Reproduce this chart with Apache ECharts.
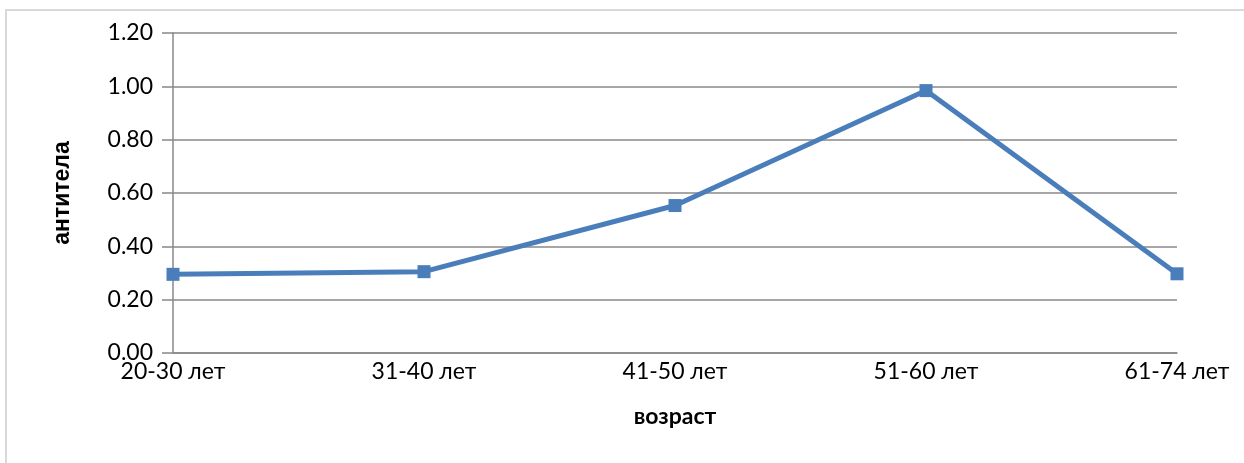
<!DOCTYPE html>
<html>
<head>
<meta charset="utf-8">
<script src="https://cdn.jsdelivr.net/npm/echarts@6/dist/echarts.min.js"></script>
<style>
  html, body { margin: 0; padding: 0; background: #fff; }
  #chart { width: 1244px; height: 463px; }
</style>
</head>
<body>
<div id="chart"></div>
<script>
var categories = ['20-30 лет', '31-40 лет', '41-50 лет', '51-60 лет', '61-74 лет'];
var antibodies = [0.295, 0.305, 0.553, 0.984, 0.297];
var yMin = 0, yMax = 1.2, yStep = 0.2;

var myChart = echarts.init(document.getElementById('chart'));

var option = {
    animation: false,
    backgroundColor: '#fff',
    graphic: [{
        type: 'rect',
        shape: { x: 6, y: 10, width: 1260, height: 470 },
        style: { fill: 'none', stroke: '#d9d9d9', lineWidth: 2 },
        silent: true
    }],
    grid: { left: 173, right: 67, top: 33, bottom: 110 },
    xAxis: {
        type: 'category',
        data: categories,
        boundaryGap: false,
        name: 'возраст',
        nameLocation: 'middle',
        nameGap: 52,
        nameTextStyle: { fontFamily: 'Lato', fontWeight: 'bold', fontSize: 23, color: '#000' },
        axisLine: { show: true, lineStyle: { color: '#888', width: 1.5 } },
        axisTick: { show: false },
        axisLabel: { fontFamily: 'Lato', fontSize: 23, color: '#000', margin: 7 },
        splitLine: { show: false }
    },
    yAxis: {
        type: 'value',
        min: yMin,
        max: yMax,
        interval: yStep,
        name: 'антитела',
        nameLocation: 'middle',
        nameGap: 99,
        nameRotate: 90,
        nameTextStyle: { fontFamily: 'Liberation Sans', fontWeight: 'bold', fontSize: 23, color: '#000' },
        axisLine: { show: true, lineStyle: { color: '#888', width: 1.5 } },
        axisTick: { show: true, length: 11, lineStyle: { color: '#888', width: 1.5 } },
        axisLabel: {
            fontFamily: 'Lato', fontSize: 23, color: '#000', margin: 20,
            formatter: function (v) { return v.toFixed(2); }
        },
        splitLine: { show: true, lineStyle: { color: '#888', width: 1.5 } }
    },
    series: [{
        type: 'line',
        data: antibodies,
        symbol: 'rect',
        symbolSize: 13,
        lineStyle: { color: '#4a7ebb', width: 5 },
        itemStyle: { color: '#4a7ebb' }
    }]
};

myChart.setOption(option);
</script>
</body>
</html>
